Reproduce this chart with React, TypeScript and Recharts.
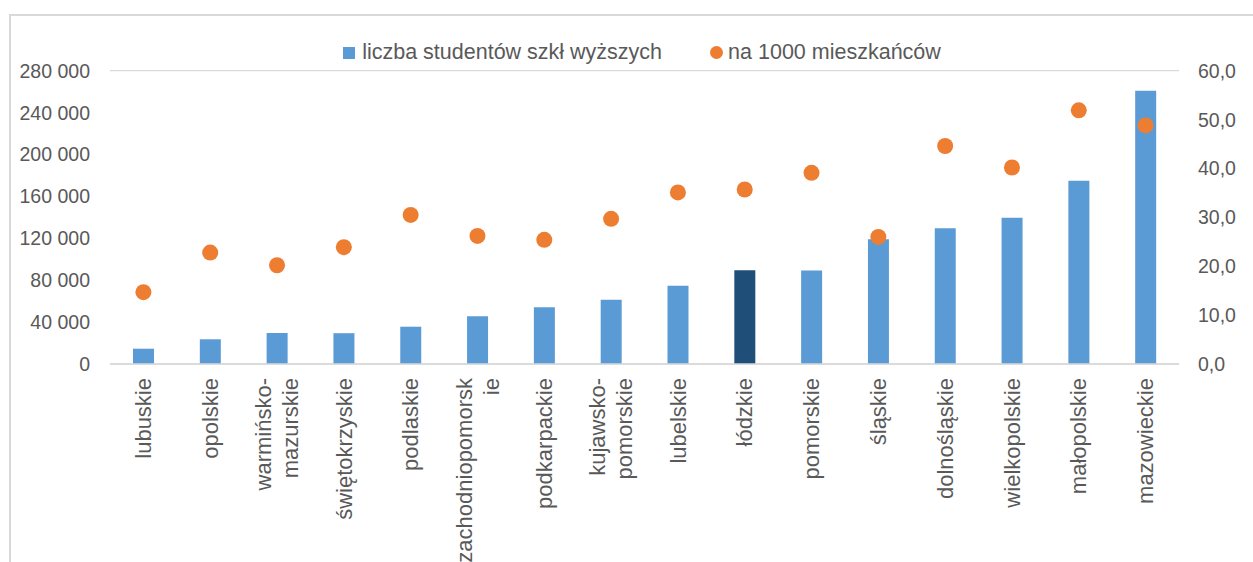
import React from 'react';
import { ComposedChart, Bar, Line, XAxis, YAxis, CartesianGrid, Legend, Cell } from 'recharts';

const categories = [
  'lubuskie',
  'opolskie',
  'warmińsko-\nmazurskie',
  'świętokrzyskie',
  'podlaskie',
  'zachodniopomorsk\nie',
  'podkarpackie',
  'kujawsko-\npomorskie',
  'lubelskie',
  'łódzkie',
  'pomorskie',
  'śląskie',
  'dolnośląskie',
  'wielkopolskie',
  'małopolskie',
  'mazowieckie',
];
const students = [14600, 23600, 29600, 29400, 35600, 45500, 54100, 61400, 74600, 89400, 89300, 119000, 129500, 139700, 175000, 260900];
const perThousand = [14.7, 22.8, 20.2, 23.9, 30.5, 26.2, 25.4, 29.7, 35.1, 35.7, 39.1, 26.0, 44.6, 40.2, 51.9, 48.8];
const leftTicks = [0, 40000, 80000, 120000, 160000, 200000, 240000, 280000];
const rightTicks = [0, 10, 20, 30, 40, 50, 60];
const highlightedCategory = 'łódzkie';
const seriesNames = ['liczba studentów szkł wyższych', 'na 1000 mieszkańców'];

const BAR_COLOR = '#5B9BD5';
const BAR_HIGHLIGHT = '#1F4E79';
const DOT_COLOR = '#ED7D31';
const GRID = '#D9D9D9';
const TEXT = '#595959';
const FONT = '"Liberation Sans", Arial, sans-serif';

const data = categories.map((c, i) => ({ category: c, students: students[i], perThousand: perThousand[i] }));

const fmtLeft = (v: number) => {
  const s = String(Math.round(v));
  return s.replace(/\B(?=(\d{3})+(?!\d))/g, ' ');
};
const fmtRight = (v: number) => v.toFixed(1).replace('.', ',');

const CategoryTick = (props: any) => {
  const { x, y, payload } = props;
  const lines: string[] = String(payload.value).split('\n');
  const lh = 27;
  return (
    <g transform={`translate(${x},${y + 6}) rotate(-90)`}>
      {lines.map((ln, i) => (
        <text
          key={i}
          x={0}
          y={(i - (lines.length - 1) / 2) * lh}
          dy="0.35em"
          textAnchor="end"
          fill={TEXT}
          fontSize={22}
          fontFamily={FONT}
        >
          {ln}
        </text>
      ))}
    </g>
  );
};

const LegendContent = () => (
  <div
    style={{
      height: 36,
      display: 'flex',
      alignItems: 'center',
      justifyContent: 'center',
      paddingLeft: 31,
      fontFamily: FONT,
      fontSize: 21.5,
      color: TEXT,
      boxSizing: 'border-box',
    }}
  >
    <span style={{ display: 'inline-block', width: 12, height: 12, background: BAR_COLOR, marginRight: 7 }} />
    <span>{seriesNames[0]}</span>
    <span style={{ display: 'inline-block', width: 13, height: 13, borderRadius: '50%', background: DOT_COLOR, marginLeft: 48, marginRight: 5 }} />
    <span>{seriesNames[1]}</span>
  </div>
);

export default function App() {
  return (
    <div style={{ position: 'absolute', left: 0, top: 0, width: 1253, height: 562, background: '#fff', overflow: 'hidden' }}>
      <div
        style={{
          position: 'absolute',
          left: 9,
          top: 14,
          width: 1400,
          height: 700,
          borderLeft: `2px solid ${GRID}`,
          borderTop: `2px solid ${GRID}`,
        }}
      />
      <div style={{ position: 'absolute', left: 0, top: 0 }}>
        <ComposedChart
          width={1253}
          height={562}
          data={data}
          margin={{ top: 34.7, right: 0, bottom: 0, left: 0 }}
          barCategoryGap={0}
        >
          <CartesianGrid vertical={false} stroke={GRID} strokeWidth={1.3} />
          <XAxis
            dataKey="category"
            height={198}
            interval={0}
            tickLine={false}
            axisLine={{ stroke: GRID, strokeWidth: 1.3 }}
            tick={<CategoryTick />}
          />
          <YAxis
            yAxisId="left"
            orientation="left"
            width={110}
            domain={[0, 280000]}
            ticks={leftTicks}
            tickFormatter={fmtLeft}
            axisLine={false}
            tickLine={false}
            tickSize={0}
            tickMargin={20}
            tick={{ fill: TEXT, fontSize: 19.5, fontFamily: FONT }}
          />
          <YAxis
            yAxisId="right"
            orientation="right"
            width={74}
            domain={[0, 60]}
            ticks={rightTicks}
            tickFormatter={fmtRight}
            axisLine={false}
            tickLine={false}
            tickSize={0}
            tickMargin={19}
            tick={{ fill: TEXT, fontSize: 19.5, fontFamily: FONT }}
          />
          <Legend verticalAlign="top" align="center" content={<LegendContent />} />
          <Bar yAxisId="left" dataKey="students" name={seriesNames[0]} barSize={21} fill={BAR_COLOR} isAnimationActive={false}>
            {data.map((d, i) => (
              <Cell key={i} fill={d.category === highlightedCategory ? BAR_HIGHLIGHT : BAR_COLOR} />
            ))}
          </Bar>
          <Line
            yAxisId="right"
            dataKey="perThousand"
            name={seriesNames[1]}
            stroke="none"
            strokeWidth={0}
            dot={{ r: 8, fill: DOT_COLOR, stroke: 'none' }}
            activeDot={false}
            isAnimationActive={false}
          />
        </ComposedChart>
      </div>
    </div>
  );
}
